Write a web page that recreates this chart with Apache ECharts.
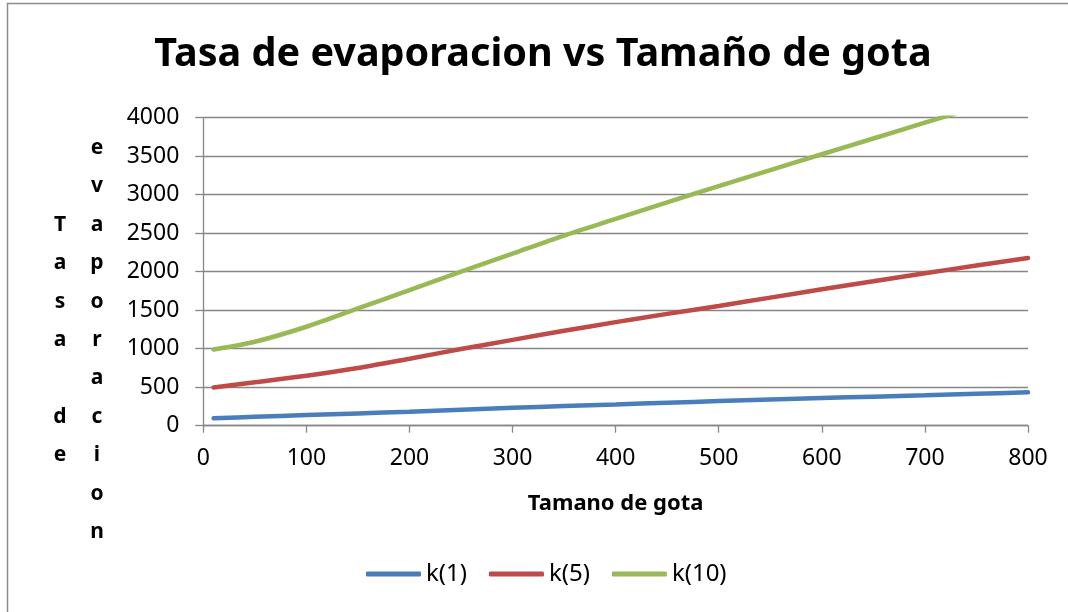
<!DOCTYPE html>
<html>
<head>
<meta charset="utf-8">
<title>Tasa de evaporacion vs Tamaño de gota</title>
<script src="https://cdn.jsdelivr.net/npm/echarts@6/dist/echarts.min.js"></script>
<style>
  html, body { margin: 0; padding: 0; background: #fff; }
  #chart { width: 1068px; height: 612px; }
</style>
</head>
<body>
<div id="chart"></div>
<script>
// Droplet size (x) and evaporation rate for three k values
const tamanoGota = [10, 50, 100, 150, 200, 250, 300, 350, 400, 450, 500, 550, 600, 650, 700, 750, 800];
const k1  = [97, 115, 138, 160, 182, 207, 232, 255, 276, 298, 320, 340, 359, 377, 395, 414, 433];
const k5  = [497, 565, 650, 750, 870, 995, 1115, 1232, 1345, 1452, 1555, 1663, 1772, 1876, 1980, 2080, 2177];
const k10 = [990, 1090, 1285, 1523, 1760, 2000, 2235, 2470, 2685, 2900, 3112, 3320, 3525, 3730, 3935, 4135, 4330];

const seriesNames = ['k(1)', 'k(5)', 'k(10)'];
const seriesColors = ['#4A7EBB', '#BE4B48', '#98B954'];
const xTicks = { min: 0, max: 800, step: 100 };
const yTicks = { min: 0, max: 4000, step: 500 };

const chartTitle = 'Tasa de evaporacion vs Tamaño de gota';
const xAxisTitle = 'Tamano de gota';
const yAxisTitle = 'Tasa de evaporacion';

const FONT = '"Noto Sans", "Open Sans", sans-serif';
const AXIS_GRAY = '#868686';

const pairs = vals => tamanoGota.map((x, i) => [x, vals[i]]);

// y-axis title stacked one letter per line, wrapped into two columns
const yWords = yAxisTitle.split(' ');
const col1 = (yWords[0] + ' ' + yWords[1]).split('').join('\n');
const col2 = yWords[2].split('').join('\n');

const chart = echarts.init(document.getElementById('chart'), null, { renderer: 'canvas' });

chart.setOption({
  backgroundColor: '#fff',
  animation: false,
  title: {
    text: chartTitle,
    left: 538,
    top: 30,
    textAlign: 'center',
    textStyle: { fontFamily: FONT, fontWeight: 'bold', fontSize: 39.6, color: '#000' }
  },
  grid: { left: 203.3, right: 40, top: 117.7, bottom: 186.3, containLabel: false },
  legend: {
    data: seriesNames,
    left: 361,
    top: 557,
    icon: 'roundRect',
    itemWidth: 55,
    itemHeight: 5,
    itemGap: 22,
    textStyle: { fontFamily: FONT, fontSize: 24, color: '#000' }
  },
  xAxis: {
    type: 'value',
    min: xTicks.min, max: xTicks.max, interval: xTicks.step,
    name: xAxisTitle,
    nameLocation: 'middle',
    nameGap: 67,
    nameTextStyle: { fontFamily: FONT, fontWeight: 'bold', fontSize: 22, color: '#000' },
    axisLine: { show: true, lineStyle: { color: AXIS_GRAY, width: 1.3 } },
    axisTick: { show: true, length: 7, lineStyle: { color: AXIS_GRAY, width: 1.3 } },
    axisLabel: { margin: 21, fontFamily: FONT, fontSize: 23, color: '#000', formatter: v => String(v) },
    splitLine: { show: false }
  },
  yAxis: {
    type: 'value',
    min: yTicks.min, max: yTicks.max, interval: yTicks.step,
    axisLine: { show: true, lineStyle: { color: AXIS_GRAY, width: 1.3 } },
    axisTick: { show: true, length: 8, lineStyle: { color: AXIS_GRAY, width: 1.3 } },
    axisLabel: { margin: 24, fontFamily: FONT, fontSize: 23, color: '#000', formatter: v => String(v) },
    splitLine: { show: true, lineStyle: { color: AXIS_GRAY, width: 1.3 } }
  },
  series: [k1, k5, k10].map((vals, i) => ({
    name: seriesNames[i],
    type: 'line',
    data: pairs(vals),
    smooth: 0.3,
    showSymbol: false,
    symbol: 'none',
    clip: true,
    color: seriesColors[i],
    lineStyle: { width: 4.5, color: seriesColors[i], cap: 'round' }
  })),
  graphic: [
    {
      // chart-area frame: top and left edges
      type: 'polyline',
      shape: { points: [[7.5, 612], [7.5, 3.5], [1068, 3.5]] },
      style: { fill: null, stroke: '#8c8c8c', lineWidth: 1.5 },
      silent: true
    },
    {
      type: 'text',
      x: 60, y: 340,
      style: {
        text: col1, fontFamily: FONT, fontWeight: 'bold', fontSize: 21,
        lineHeight: 38.4, fill: '#000', align: 'center', verticalAlign: 'middle'
      }
    },
    {
      type: 'text',
      x: 97, y: 340,
      style: {
        text: col2, fontFamily: FONT, fontWeight: 'bold', fontSize: 21,
        lineHeight: 38.4, fill: '#000', align: 'center', verticalAlign: 'middle'
      }
    }
  ]
});
</script>
</body>
</html>
